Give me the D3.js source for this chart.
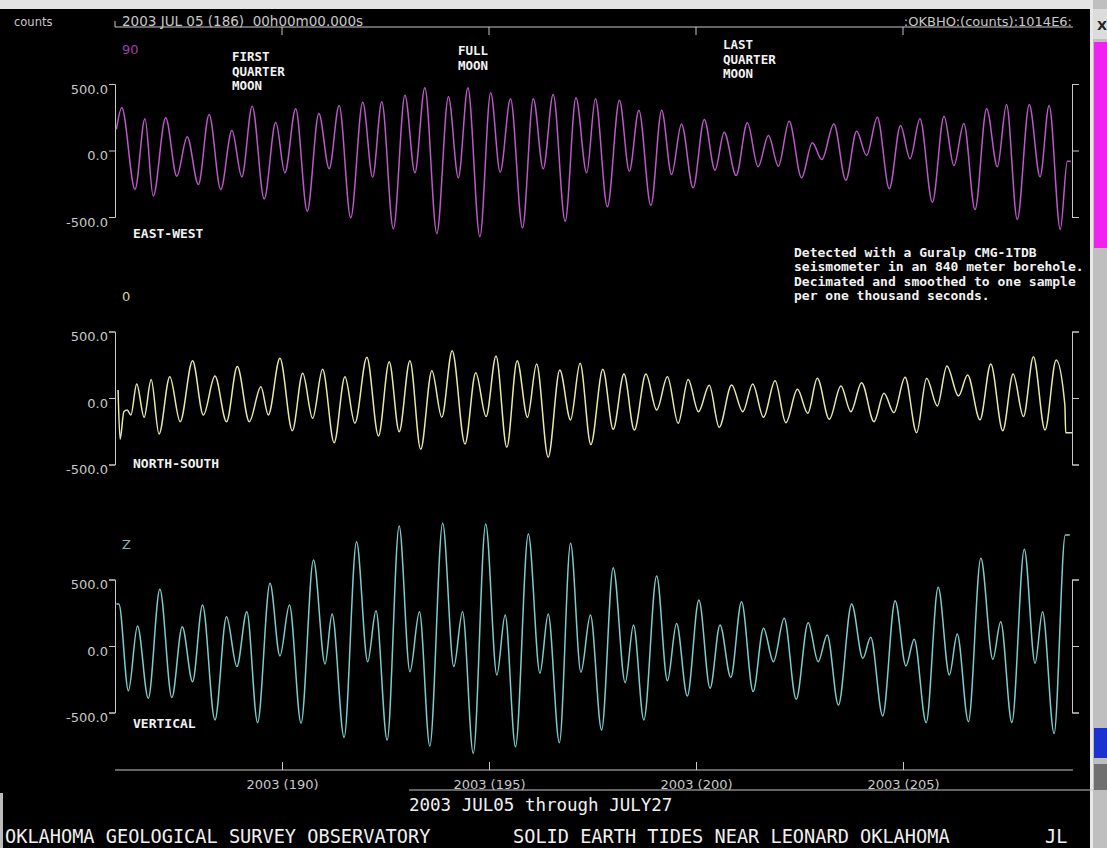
<!DOCTYPE html>
<html>
<head>
<meta charset="utf-8">
<script src="https://cdn.jsdelivr.net/npm/d3@7"></script>
<style>
body { margin: 0; background: #000; overflow: hidden; }
svg { display: block; }
text { white-space: pre; }
</style>
</head>
<body>
<script>
// time axis: day of year, start 2003 JUL 05 (186) 00h
var startDay = 186, endDay = 209;
var dayTicks = [190, 195, 200, 205];
var countTicks = [-500, 0, 500];

// EAST-WEST trace, extrema (t = days after start)
var ewT = [0.00,0.13,0.45,0.69,0.89,1.19,1.46,1.71,1.98,2.24,2.52,2.79,3.03,3.28,3.57,3.85,4.07,4.33,4.61,4.89,5.14,5.38,5.66,5.95,6.19,6.41,6.69,6.97,7.21,7.45,7.74,8.02,8.26,8.49,8.78,9.04,9.27,9.52,9.81,10.07,10.31,10.55,10.84,11.10,11.36,11.57,11.86,12.15,12.39,12.62,12.91,13.17,13.41,13.65,13.93,14.20,14.46,14.68,14.97,15.24,15.50,15.75,15.99,16.25,16.55,16.81,17.04,17.33,17.62,17.88,18.12,18.38,18.67,18.94,19.17,19.41,19.71,19.99,20.23,20.47,20.74,21.02,21.28,21.50,21.76,22.05,22.31,22.53,22.80,22.97,23.05];
var ewCount = [158,321,-293,238,-343,246,-193,103,-256,271,-293,150,-198,333,-363,213,-168,313,-456,278,-138,338,-506,363,-201,366,-589,416,-168,471,-624,404,-205,471,-649,434,-163,389,-581,389,-138,421,-531,396,-168,389,-423,378,-156,303,-414,303,-180,200,-281,233,-148,138,-188,208,-123,113,-118,220,-205,58,-68,200,-223,145,-38,250,-288,188,-62,238,-389,258,-113,203,-444,313,-123,346,-519,346,-198,338,-594,-80,-80];

// NORTH-SOUTH trace
var nsT = [0.04,0.09,0.18,0.26,0.35,0.49,0.67,0.84,1.03,1.29,1.54,1.84,2.10,2.38,2.66,2.92,3.21,3.49,3.67,3.95,4.25,4.50,4.74,4.98,5.26,5.52,5.76,6.05,6.33,6.59,6.83,7.09,7.35,7.62,7.86,8.11,8.42,8.68,8.93,9.17,9.43,9.68,9.93,10.15,10.43,10.71,10.97,11.20,11.46,11.75,12.00,12.26,12.51,12.79,13.05,13.31,13.57,13.81,14.06,14.32,14.56,14.86,15.13,15.37,15.63,15.91,16.17,16.45,16.70,16.93,17.22,17.50,17.74,18.00,18.30,18.54,18.78,19.05,19.33,19.57,19.83,20.06,20.34,20.56,20.86,21.12,21.41,21.66,21.91,22.15,22.43,22.70,22.91,22.93,23.08];
var nsCount = [60,-311,-103,-90,-128,105,-145,140,-271,160,-178,281,-128,165,-178,236,-178,85,-128,298,-246,186,-153,216,-336,160,-190,306,-286,273,-253,281,-386,205,-145,356,-346,190,-140,316,-371,281,-145,256,-446,211,-165,261,-350,216,-235,180,-241,180,-90,160,-190,140,-103,95,-220,98,-103,105,-145,130,-186,65,-115,148,-160,90,-103,115,-178,35,-110,156,-261,148,-60,241,15,173,-165,256,-246,180,-140,311,-241,286,-53,-261,-261];

// VERTICAL trace
var zT = [0.00,0.06,0.29,0.51,0.77,1.05,1.34,1.59,1.84,2.08,2.38,2.66,2.91,3.15,3.41,3.71,3.95,4.18,4.46,4.76,5.04,5.21,5.50,5.80,6.07,6.27,6.54,6.83,7.09,7.32,7.57,7.88,8.15,8.36,8.62,8.92,9.19,9.39,9.64,9.95,10.23,10.43,10.70,10.97,11.22,11.45,11.72,12.00,12.29,12.49,12.74,13.05,13.31,13.53,13.79,14.07,14.34,14.58,14.84,15.10,15.38,15.63,15.87,16.13,16.42,16.71,16.95,17.17,17.44,17.76,18.03,18.22,18.51,18.81,19.07,19.27,19.56,19.85,20.12,20.31,20.58,20.88,21.17,21.36,21.63,21.93,22.19,22.37,22.65,22.92,23.03];
var zCount = [316,316,-336,150,-393,426,-388,145,-268,308,-556,220,-155,258,-576,471,-75,308,-581,647,-135,241,-687,784,-118,265,-707,902,-193,258,-752,922,-155,258,-807,917,-218,233,-757,842,-205,241,-727,772,-197,233,-632,589,-276,158,-556,526,-261,170,-376,346,-318,158,-236,333,-343,133,-118,208,-401,175,-118,83,-444,316,-93,65,-526,341,-150,50,-576,441,-218,90,-569,659,-100,183,-576,727,-130,258,-657,835,835];

var moonLabels = [["FIRST", "QUARTER", "MOON"], ["FULL", "MOON"], ["LAST", "QUARTER", "MOON"]];
var noteLines = [
    "Detected with a Guralp CMG-1TDB",
    "seismometer in an 840 meter borehole.",
    "Decimated and smoothed to one sample",
    "per one thousand seconds."
];

var W = 1107, H = 848;
var sans = "'DejaVu Sans', sans-serif";
var mono = "'DejaVu Sans Mono', monospace";
var grey = "#c8c8c8";

var svg = d3.select("body").append("svg")
    .attr("width", W)
    .attr("height", H)
    .style("background", "#000");

// window chrome
svg.append("rect").attr("x", 0).attr("y", 0).attr("width", W).attr("height", 9).attr("fill", "#e4e4e4");
svg.append("rect").attr("x", 1090).attr("y", 0).attr("width", 17).attr("height", H).attr("fill", "#bfbfbf");
svg.append("rect").attr("x", 1090).attr("y", 0).attr("width", 3).attr("height", H).attr("fill", "#e8e8e8");
svg.append("rect").attr("x", 1093).attr("y", 9).attr("width", 14).attr("height", 30).attr("fill", "#dcdcdc");
svg.append("text").attr("x", 1097).attr("y", 30).attr("font-family", sans).attr("font-size", 13)
    .attr("font-weight", "bold").attr("fill", "#222").text("X");
svg.append("rect").attr("x", 1094).attr("y", 42).attr("width", 13).attr("height", 206).attr("fill", "#f022f0");
svg.append("rect").attr("x", 1094).attr("y", 728).attr("width", 13).attr("height", 30).attr("fill", "#1a32d0");
svg.append("rect").attr("x", 1094).attr("y", 764).attr("width", 13).attr("height", 26).attr("fill", "#707070");
svg.append("rect").attr("x", 0).attr("y", 793).attr("width", 3).attr("height", 55).attr("fill", "#bbbbbb");

var x = d3.scaleLinear().domain([startDay, endDay]).range([116.4, 1068.6]);

// top time axis
var topAxis = svg.append("g").attr("transform", "translate(0,27)");
topAxis.append("line").attr("x1", 115).attr("x2", 1073).attr("stroke", grey);
topAxis.append("line").attr("x1", 115).attr("x2", 115).attr("y1", -6).attr("y2", 0).attr("stroke", grey);
topAxis.selectAll(".tk").data(dayTicks).enter().append("line")
    .attr("x1", function(d) { return x(d); }).attr("x2", function(d) { return x(d); })
    .attr("y1", 0).attr("y2", 8).attr("stroke", grey);
svg.append("text").attr("x", 122).attr("y", 26).attr("font-family", sans).attr("font-size", 13.5)
    .attr("fill", grey).text("2003 JUL 05 (186)  00h00m00.000s");
svg.append("text").attr("x", 1072).attr("y", 26).attr("text-anchor", "end").attr("font-family", sans)
    .attr("font-size", 13).attr("fill", grey).text(":OKBHO:(counts):1014E6:");
svg.append("text").attr("x", 14).attr("y", 26).attr("font-family", sans).attr("font-size", 11.5)
    .attr("fill", grey).text("counts");

// bottom time axis
var bottomAxis = d3.axisBottom(x)
    .tickValues(dayTicks)
    .tickSize(-8)
    .tickSizeOuter(0)
    .tickPadding(5)
    .tickFormat(function(d) { return "2003 (" + d + ")"; });
var gb = svg.append("g").attr("transform", "translate(0,770)").call(bottomAxis);
gb.select(".domain").attr("d", "M115,0H1073").attr("stroke", grey);
gb.selectAll(".tick line").attr("stroke", grey);
gb.selectAll(".tick text").attr("fill", grey).attr("font-family", sans).attr("font-size", 13).attr("dy", "1.05em");

var panels = [
    { name: "EAST-WEST", tag: "90", t: ewT, v: ewCount, color: "#bc58c8", tagColor: "#a040a8", zero: 150.5, nameY: 233 },
    { name: "NORTH-SOUTH", tag: "0", t: nsT, v: nsCount, color: "#e8e8a4", tagColor: "#d8d890", zero: 398, nameY: 463 },
    { name: "VERTICAL", tag: "Z", t: zT, v: zCount, color: "#7ccccc", tagColor: "#88b4b4", zero: 646, nameY: 723 }
];

panels.forEach(function(p) {
    var y = d3.scaleLinear().domain([-500, 500]).range([p.zero + 66.5, p.zero - 66.5]);

    var left = d3.axisLeft(y).tickValues(countTicks).tickSize(6).tickSizeOuter(6)
        .tickPadding(1).tickFormat(function(d) { return d.toFixed(1); });
    var gl = svg.append("g").attr("transform", "translate(115,0)").call(left);
    gl.selectAll("path, line").attr("stroke", grey);
    gl.selectAll("text").attr("fill", grey).attr("font-family", sans).attr("font-size", 13).attr("dy", "0.7em");

    var right = d3.axisRight(y).tickValues(countTicks).tickSize(7).tickSizeOuter(7).tickFormat("");
    var gr = svg.append("g").attr("transform", "translate(1072,0)").call(right);
    gr.selectAll("path, line").attr("stroke", grey);

    var pts = d3.zip(p.t, p.v);
    var line = d3.line()
        .x(function(d) { return x(startDay + d[0]); })
        .y(function(d) { return y(d[1]); })
        .curve(d3.curveMonotoneX);
    svg.append("path").datum(pts)
        .attr("fill", "none")
        .attr("stroke", p.color)
        .attr("stroke-width", 1.5)
        .attr("d", line);

    svg.append("text").attr("x", 122).attr("y", p.zero - 97).attr("font-family", sans)
        .attr("font-size", 13).attr("fill", p.tagColor).text(p.tag);
    svg.append("text").attr("x", 133).attr("y", p.nameY + 5).attr("font-family", mono)
        .attr("font-weight", "bold").attr("font-size", 13).attr("fill", "#f2f2f2").text(p.name);
});

// moon phase notes
var moonX = [232, 458, 723];
var moonY = [57, 51, 45];
moonLabels.forEach(function(lines, i) {
    var t = svg.append("text").attr("font-family", mono).attr("font-weight", "bold")
        .attr("font-size", 12.5).attr("fill", "#f2f2f2");
    lines.forEach(function(s, j) {
        t.append("tspan").attr("x", moonX[i]).attr("y", moonY[i] + 4 + j * 14.5).text(s);
    });
});

var note = svg.append("text").attr("font-family", mono).attr("font-weight", "bold")
    .attr("font-size", 13).attr("fill", "#f2f2f2");
noteLines.forEach(function(s, j) {
    note.append("tspan").attr("x", 794).attr("y", 257 + j * 14.3).text(s);
});

// footer
svg.append("line").attr("x1", 409).attr("x2", 1093).attr("y1", 790).attr("y2", 790).attr("stroke", grey);
svg.append("text").attr("x", 409).attr("y", 811).attr("font-family", mono).attr("font-size", 17.5)
    .attr("fill", "#f0f0f0").text("2003 JUL05 through JULY27");
svg.append("text").attr("x", 5).attr("y", 843).attr("font-family", mono).attr("font-size", 18.6)
    .attr("fill", "#f0f0f0").text("OKLAHOMA GEOLOGICAL SURVEY OBSERVATORY");
svg.append("text").attr("x", 513).attr("y", 843).attr("font-family", mono).attr("font-size", 18.6)
    .attr("fill", "#f0f0f0").text("SOLID EARTH TIDES NEAR LEONARD OKLAHOMA");
svg.append("text").attr("x", 1045).attr("y", 843).attr("font-family", mono).attr("font-size", 18.6)
    .attr("fill", "#f0f0f0").text("JL");
</script>
</body>
</html>
